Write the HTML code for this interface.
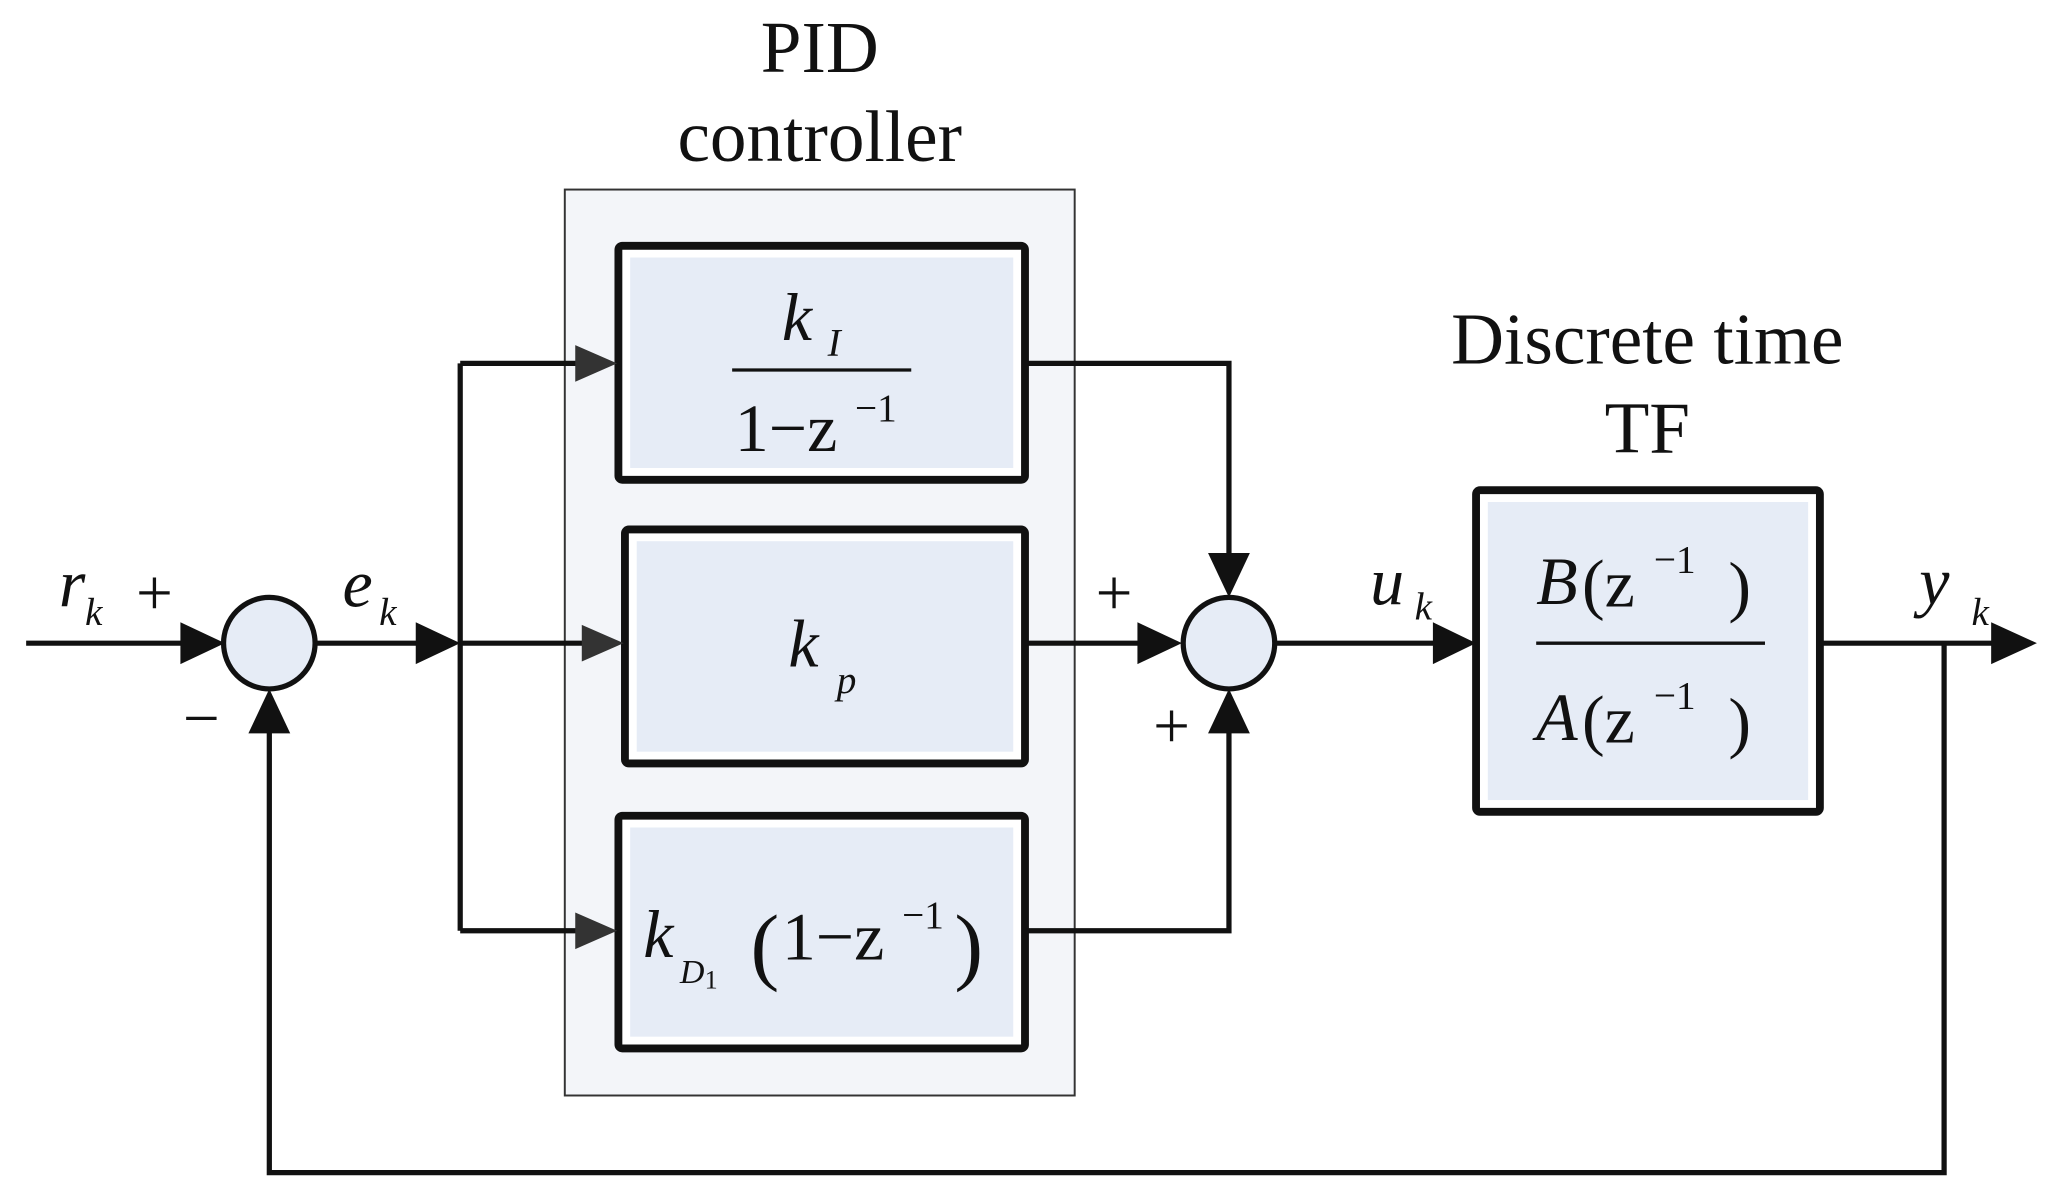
<!DOCTYPE html>
<html><head><style>html,body{margin:0;padding:0;background:#fff}svg{display:block}</style></head>
<body>
<svg width="2050" height="1204" viewBox="0 0 1568 921" preserveAspectRatio="none" xmlns="http://www.w3.org/2000/svg" font-family="Liberation Serif, serif">
<rect x="432" y="145" width="390" height="693" fill="#f3f5f9" stroke="#333" stroke-width="1.5"/>
<g stroke="#111" stroke-width="6">
<rect x="473" y="188" width="311" height="179" rx="3" fill="#fff"/>
<rect x="478" y="405" width="306" height="179" rx="3" fill="#fff"/>
<rect x="473" y="624" width="311" height="178" rx="3" fill="#fff"/>
<rect x="1129" y="375" width="263" height="246" rx="3" fill="#fff"/>
</g>
<g fill="#e6ecf6">
<rect x="482" y="197" width="293" height="161"/>
<rect x="487" y="414" width="288" height="161"/>
<rect x="482" y="633" width="293" height="160"/>
<rect x="1138" y="384" width="245" height="228"/>
</g>
<circle cx="206" cy="492" r="35" fill="#e6ecf6" stroke="#111" stroke-width="4"/>
<circle cx="940" cy="492" r="35" fill="#e6ecf6" stroke="#111" stroke-width="4"/>
<g stroke="#111" stroke-width="4" fill="none">
<path d="M20 492 H140"/>
<path d="M241 492 H322"/>
<path d="M352 278 V712"/>
<path d="M352 278 H442 M352 492 H447 M352 712 H442"/>
<path d="M784 278 H940 V425"/>
<path d="M784 492 H872"/>
<path d="M784 712 H940 V560"/>
<path d="M975 492 H1098"/>
<path d="M1392 492 H1525"/>
<path d="M1487 492 V897 H206 V560"/>
</g>
<g fill="#111">
<polygon points="138,476 172,492 138,508"/>
<polygon points="318,476 352,492 318,508"/>
<polygon points="870,476 904,492 870,508"/>
<polygon points="924,423 940,457 956,423"/>
<polygon points="924,561 940,527 956,561"/>
<polygon points="1096,476 1129,492 1096,508"/>
<polygon points="1523,476 1558,492 1523,508"/>
<polygon points="190,561 206,527 222,561"/>
</g>
<g fill="#333">
<polygon points="440,264 472,278 440,292"/>
<polygon points="445,478 477,492 445,506"/>
<polygon points="440,698 472,712 440,726"/>
</g>
<g font-size="56" text-anchor="middle" fill="#111">
<text x="627" y="55">PID</text>
<text x="627" y="123">controller</text>
<text x="1260" y="278">Discrete time</text>
<text x="1260" y="346">TF</text>
</g>
<g fill="#111" font-size="52">
<text x="598" y="260" font-style="italic">k</text><text x="633" y="272" font-style="italic" font-size="30">I</text>
<line x1="560" y1="283" x2="697" y2="283" stroke="#111" stroke-width="2.5"/>
<text x="562" y="345">1−z</text><text x="654" y="322" font-size="30">−1</text>
<text x="603" y="510" font-style="italic">k</text><text x="640" y="530" font-style="italic" font-size="30">p</text>
<text x="492" y="732" font-style="italic">k</text><text x="520" y="752" font-style="italic" font-size="26">D</text><text x="539" y="756" font-size="20">1</text>
<text x="574" y="745" font-size="66">(</text><text x="598" y="734">1−z</text><text x="690" y="710" font-size="30">−1</text><text x="730" y="745" font-size="66">)</text>
<text x="1175" y="462" font-style="italic">B</text><text x="1210" y="464">(z</text><text x="1265" y="438" font-size="30">−1</text><text x="1322" y="466">)</text>
<line x1="1175" y1="492" x2="1350" y2="492" stroke="#111" stroke-width="2.5"/>
<text x="1175" y="566" font-style="italic">A</text><text x="1210" y="568">(z</text><text x="1265" y="542" font-size="30">−1</text><text x="1322" y="570">)</text>
<text x="45" y="464" font-style="italic">r</text><text x="65" y="478" font-style="italic" font-size="30">k</text>
<text x="104" y="470" font-size="50">+</text>
<text x="140" y="566" font-size="50">−</text>
<text x="262" y="464" font-style="italic">e</text><text x="290" y="478" font-style="italic" font-size="30">k</text>
<text x="838" y="470" font-size="50">+</text>
<text x="882" y="572" font-size="50">+</text>
<text x="1048" y="462" font-style="italic">u</text><text x="1082" y="474" font-style="italic" font-size="30">k</text>
<text x="1468" y="462" font-style="italic">y</text><text x="1508" y="478" font-style="italic" font-size="30">k</text>
</g>
</svg>
</body></html>
